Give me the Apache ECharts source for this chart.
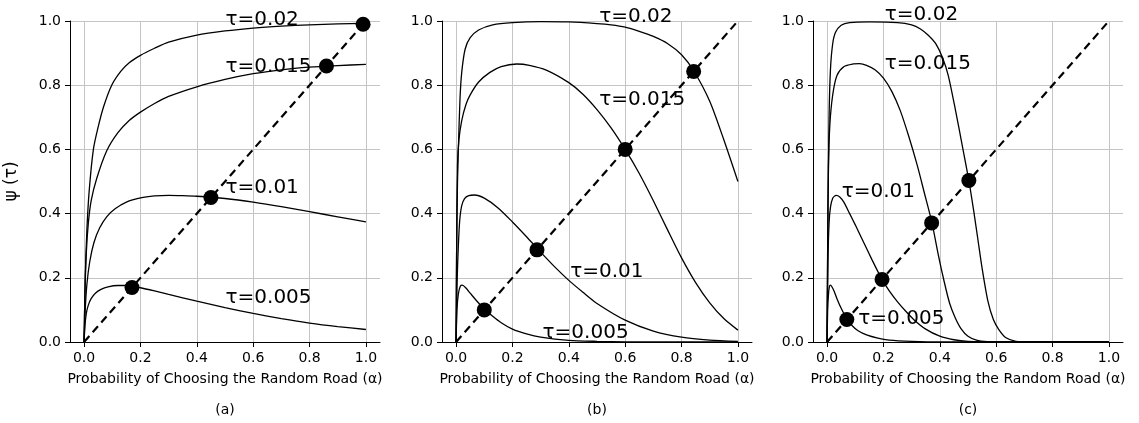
<!DOCTYPE html>
<html>
<head>
<meta charset="utf-8">
<script src="https://cdn.jsdelivr.net/npm/echarts@6/dist/echarts.min.js"></script>
<style>
  html, body { margin: 0; padding: 0; background: #fff; }
  #chart { width: 1139px; height: 423px; }
</style>
</head>
<body>
<div id="chart"></div>
<script>
// tick values
const xTicks = [0, 0.2, 0.4, 0.6, 0.8, 1.0];
const yTicks = [0, 0.2, 0.4, 0.6, 0.8, 1.0];
const tauNames = ['τ=0.005', 'τ=0.01', 'τ=0.015', 'τ=0.02'];
const panelNames = ['(a)', '(b)', '(c)'];
const xName = 'Probability of Choosing the Random Road (α)';
const yName = 'ψ (τ)';

// diagonal psi = alpha
const diag = [[0, 0], [1, 1]];

// panel (a) curves
const a005 = [[0,0],[0.003,0.05],[0.008,0.09],[0.015,0.115],[0.025,0.135],[0.04,0.152],[0.06,0.164],[0.085,0.172],[0.12,0.176],[0.15,0.176],[0.2,0.169],[0.25,0.159],[0.3,0.148],[0.4,0.127],[0.5,0.107],[0.6,0.089],[0.7,0.073],[0.8,0.059],[0.9,0.048],[1.0,0.039]];
const a010 = [[0,0],[0.004,0.1],[0.01,0.18],[0.02,0.25],[0.035,0.31],[0.055,0.355],[0.08,0.39],[0.11,0.415],[0.15,0.436],[0.2,0.449],[0.25,0.455],[0.3,0.457],[0.35,0.456],[0.4,0.454],[0.5,0.447],[0.6,0.436],[0.7,0.422],[0.8,0.406],[0.9,0.39],[1.0,0.374]];
const a015 = [[0,0],[0.003,0.15],[0.008,0.28],[0.015,0.37],[0.025,0.44],[0.045,0.51],[0.08,0.595],[0.12,0.652],[0.16,0.69],[0.2,0.716],[0.25,0.743],[0.3,0.765],[0.4,0.795],[0.5,0.818],[0.6,0.836],[0.7,0.848],[0.8,0.856],[0.9,0.861],[1.0,0.865]];
const a020 = [[0,0],[0.004,0.2],[0.01,0.35],[0.018,0.47],[0.033,0.6],[0.05,0.67],[0.07,0.735],[0.098,0.8],[0.13,0.843],[0.16,0.87],[0.2,0.893],[0.25,0.915],[0.3,0.934],[0.4,0.956],[0.5,0.969],[0.6,0.978],[0.7,0.984],[0.8,0.988],[0.9,0.991],[1.0,0.993]];
const aDots = [[0.17,0.17],[0.45,0.45],[0.86,0.86],[0.99,0.99]];

// panel (b)
const b005 = [[0,0],[0.003,0.1],[0.008,0.15],[0.015,0.174],[0.022,0.177],[0.035,0.168],[0.05,0.152],[0.075,0.126],[0.1,0.103],[0.13,0.08],[0.16,0.06],[0.2,0.04],[0.25,0.025],[0.3,0.015],[0.4,0.005],[0.5,0.002],[0.6,0.0005],[0.8,0],[1.0,0]];
const b010 = [[0,0],[0.004,0.2],[0.008,0.3],[0.013,0.38],[0.02,0.425],[0.03,0.447],[0.045,0.456],[0.065,0.458],[0.1,0.448],[0.15,0.417],[0.2,0.374],[0.25,0.328],[0.3,0.28],[0.35,0.234],[0.4,0.192],[0.45,0.155],[0.5,0.12],[0.6,0.068],[0.7,0.034],[0.8,0.015],[0.9,0.006],[1.0,0.002]];
const b015 = [[0,0],[0.002,0.3],[0.005,0.55],[0.01,0.63],[0.02,0.69],[0.035,0.74],[0.05,0.77],[0.08,0.81],[0.12,0.84],[0.16,0.858],[0.215,0.866],[0.26,0.862],[0.32,0.847],[0.4,0.808],[0.45,0.772],[0.5,0.724],[0.55,0.667],[0.6,0.6],[0.65,0.525],[0.7,0.44],[0.75,0.35],[0.8,0.262],[0.85,0.185],[0.9,0.122],[0.95,0.073],[1.0,0.037]];
const b020 = [[0,0],[0.002,0.3],[0.005,0.5],[0.008,0.6],[0.014,0.76],[0.02,0.84],[0.032,0.912],[0.05,0.948],[0.08,0.972],[0.13,0.988],[0.2,0.995],[0.3,0.998],[0.4,0.997],[0.5,0.992],[0.55,0.988],[0.6,0.981],[0.65,0.968],[0.7,0.952],[0.75,0.93],[0.8,0.895],[0.843,0.845],[0.9,0.75],[0.95,0.63],[1.0,0.5]];
const bDots = [[0.1,0.1],[0.287,0.287],[0.6,0.6],[0.843,0.843]];

// panel (c)
const c005 = [[0,0],[0.002,0.1],[0.005,0.15],[0.008,0.172],[0.012,0.177],[0.017,0.172],[0.025,0.158],[0.035,0.135],[0.05,0.105],[0.07,0.072],[0.09,0.05],[0.11,0.035],[0.14,0.022],[0.18,0.012],[0.22,0.006],[0.3,0.002],[0.4,0],[1.0,0]];
const c010 = [[0,0],[0.003,0.25],[0.007,0.37],[0.012,0.42],[0.02,0.448],[0.032,0.457],[0.045,0.452],[0.06,0.435],[0.08,0.4],[0.1,0.365],[0.13,0.31],[0.16,0.255],[0.19,0.203],[0.22,0.16],[0.25,0.125],[0.28,0.095],[0.31,0.068],[0.35,0.04],[0.4,0.018],[0.45,0.007],[0.5,0.002],[0.6,0],[1.0,0]];
const c015 = [[0,0],[0.002,0.3],[0.005,0.55],[0.01,0.68],[0.02,0.77],[0.035,0.83],[0.06,0.858],[0.09,0.866],[0.115,0.867],[0.14,0.862],[0.17,0.848],[0.2,0.822],[0.23,0.78],[0.26,0.72],[0.29,0.64],[0.32,0.55],[0.345,0.465],[0.372,0.372],[0.395,0.27],[0.415,0.19],[0.435,0.12],[0.455,0.075],[0.475,0.042],[0.5,0.018],[0.53,0.006],[0.57,0.001],[0.62,0],[1.0,0]];
const c020 = [[0,0],[0.003,0.4],[0.007,0.7],[0.012,0.85],[0.02,0.93],[0.03,0.965],[0.05,0.987],[0.08,0.995],[0.15,0.997],[0.25,0.995],[0.3,0.988],[0.33,0.976],[0.36,0.955],[0.385,0.93],[0.41,0.885],[0.43,0.83],[0.455,0.725],[0.48,0.61],[0.503,0.503],[0.52,0.41],[0.535,0.32],[0.55,0.23],[0.57,0.13],[0.59,0.07],[0.61,0.038],[0.635,0.013],[0.67,0.002],[0.72,0],[1.0,0]];
const cDots = [[0.07,0.07],[0.195,0.195],[0.371,0.371],[0.503,0.503]];

// layout of each panel, and where the tau tags sit (data coords)
const panels = [
  { left: 70,  curves: [a005, a010, a015, a020], dots: aDots,
    tags: [[0.5, 0.139], [0.5, 0.48], [0.5, 0.858], [0.5, 1.004]] },
  { left: 442, curves: [b005, b010, b015, b020], dots: bDots,
    tags: [[0.305, 0.03], [0.403, 0.219], [0.506, 0.756], [0.506, 1.013]] },
  { left: 813, curves: [c005, c010, c015, c020], dots: cDots,
    tags: [[0.109, 0.071], [0.05, 0.468], [0.203, 0.868], [0.203, 1.019]] },
];
const gridW = 310, gridTop = 21, gridH = 321;
const FONT = 'DejaVu Sans';

let chart = echarts.init(document.getElementById('chart'));

let grids = [], xAxes = [], yAxes = [], series = [], graphics = [];
panels.forEach((p, i) => {
  grids.push({ left: p.left, top: gridTop, width: gridW, height: gridH });
  xAxes.push({
    type: 'value', gridIndex: i, min: -0.05, max: 1.05,
    name: xName, nameLocation: 'middle', nameGap: 30,
    nameTextStyle: { fontFamily: FONT, fontSize: 14, color: '#000' },
    axisLine: { lineStyle: { color: '#000', width: 1 } },
    axisTick: { show: true, length: 5, customValues: xTicks, lineStyle: { color: '#000' } },
    axisLabel: { customValues: xTicks, margin: 9, fontFamily: FONT, fontSize: 14, color: '#000',
      formatter: (v) => v.toFixed(1) },
    splitLine: { show: true, lineStyle: { color: '#c4c4c4', width: 1 } },
  });
  yAxes.push({
    type: 'value', gridIndex: i, min: 0, max: 1, interval: 0.2,
    name: i === 0 ? yName : '', nameLocation: 'middle', nameGap: 50, nameRotate: 90,
    nameTextStyle: { fontFamily: FONT, fontSize: 17, color: '#000' },
    axisLine: { show: true, onZero: false, lineStyle: { color: '#000', width: 1 } },
    axisTick: { show: true, length: 5, lineStyle: { color: '#000' } },
    axisLabel: { margin: 9, fontFamily: FONT, fontSize: 14, color: '#000',
      formatter: (v) => v.toFixed(1) },
    splitLine: { show: true, lineStyle: { color: '#c4c4c4', width: 1 } },
  });
  // tau tags
  series.push({
    type: 'scatter', xAxisIndex: i, yAxisIndex: i, clip: false, z: 1,
    symbolSize: 1, itemStyle: { color: 'rgba(0,0,0,0)', opacity: 1 }, silent: true,
    data: p.tags.map((t, k) => ({ value: t, name: tauNames[k] })),
    label: { show: true, position: 'right', distance: 0, formatter: '{b}',
      fontFamily: FONT, fontSize: 20, color: '#000' },
  });
  p.curves.forEach((c, k) => {
    series.push({
      type: 'line', name: tauNames[k], xAxisIndex: i, yAxisIndex: i, z: 3,
      data: c, showSymbol: false, smooth: 0.25,
      lineStyle: { color: '#000', width: 1.3 },
    });
  });
  series.push({
    type: 'line', xAxisIndex: i, yAxisIndex: i, z: 4, data: diag, showSymbol: false,
    lineStyle: { color: '#000', width: 2.2, type: [8, 5] },
  });
  series.push({
    type: 'scatter', xAxisIndex: i, yAxisIndex: i, z: 5, data: p.dots,
    symbolSize: 15, itemStyle: { color: '#000', opacity: 1 },
  });
  graphics.push({
    type: 'text', x: p.left + gridW / 2, y: 410,
    style: { text: panelNames[i], textAlign: 'center', textVerticalAlign: 'middle',
      font: '14px ' + FONT, fill: '#000' },
  });
});

chart.setOption({
  animation: false,
  grid: grids,
  xAxis: xAxes,
  yAxis: yAxes,
  series: series,
  graphic: graphics,
});
</script>
</body>
</html>
